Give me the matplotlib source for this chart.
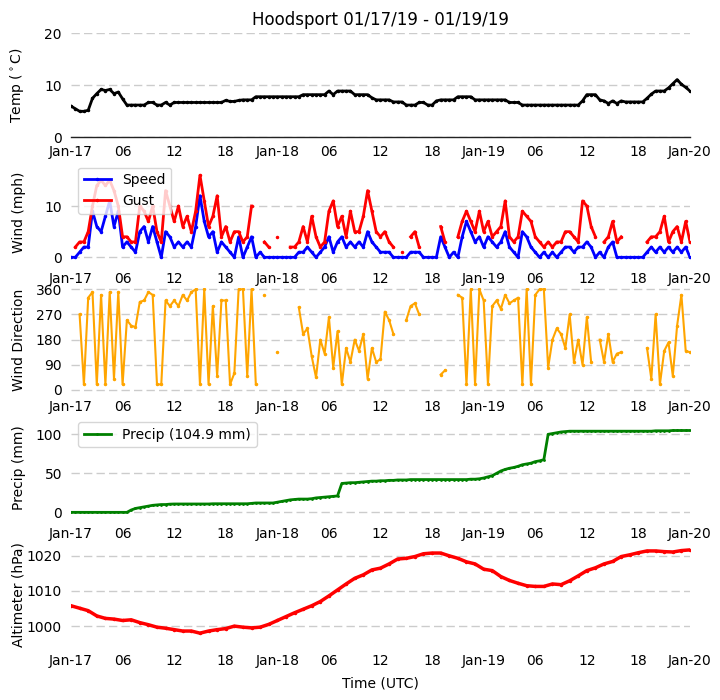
import numpy as np
import pandas as pd
import matplotlib
matplotlib.use('Agg')
import matplotlib.pyplot as plt
import matplotlib.dates as mdates
from matplotlib.ticker import FuncFormatter

nan = np.nan
title = 'Hoodsport 01/17/19 - 01/19/19'
start = pd.Timestamp('2019-01-17 00:00')

# half-hourly readings, 00:00 Jan 17 -> 00:00 Jan 20
temp_c = [6.0, 5.5, 5.0, 5.0, 5.2, 7.5, 8.4, 9.2, 9.0, 9.2, 8.4, 8.7, 7.4, 6.2, 6.2, 6.2,
          6.2, 6.2, 6.7, 6.7, 6.2, 6.2, 6.7, 6.2, 6.7, 6.7, 6.7, 6.7, 6.7, 6.7, 6.7, 6.7,
          6.7, 6.7, 6.7, 6.7, 7.1, 6.9, 6.9, 7.1, 7.2, 7.2, 7.2, 7.8, 7.8, 7.8, 7.8, 7.8,
          7.8, 7.8, 7.8, 7.8, 7.8, 7.8, 8.2, 8.2, 8.2, 8.2, 8.2, 8.2, 8.9, 8.2, 8.9, 8.9,
          8.9, 8.9, 8.2, 8.2, 8.2, 8.2, 7.6, 7.2, 7.2, 7.2, 7.2, 6.8, 6.8, 6.8, 6.2, 6.2,
          6.2, 6.7, 6.7, 6.2, 6.2, 7.0, 7.2, 7.2, 7.2, 7.2, 7.8, 7.8, 7.8, 7.8, 7.2, 7.2,
          7.2, 7.2, 7.2, 7.2, 7.2, 7.2, 6.7, 6.7, 6.7, 6.2, 6.2, 6.2, 6.2, 6.2, 6.2, 6.2,
          6.2, 6.2, 6.2, 6.2, 6.2, 6.2, 6.2, 7.0, 8.2, 8.2, 8.2, 7.2, 7.0, 6.5, 7.0, 6.5,
          7.0, 6.8, 6.8, 6.8, 6.8, 6.8, 7.5, 8.3, 8.9, 8.9, 8.9, 9.5, 10.3, 11.1, 10.2, 9.6,
          8.9]

wind_speed = [0, 0, 1, 2, 2, 9, 6, 5, 8, 11, 6, 9, 2, 3, 2, 1, 5, 6, 3, 6, 3, 0, 5, 4,
              2, 3, 2, 3, 2, 6, 12, 7, 4, 5, 1, 3, 2, 1, 0, 4, 0, 2, 4, 0, 1, 0, 0, 0,
              0, 0, 0, 0, 0, 1, 1, 2, 1, 0, 1, 2, 4, 1, 3, 4, 2, 3, 2, 3, 2, 5, 3, 2,
              1, 1, 1, 0, 0, 0, 0, 1, 1, 1, 0, 0, 0, 0, 4, 2, 0, 1, 0, 4, 7, 5, 3, 4,
              2, 4, 3, 2, 3, 5, 2, 1, 0, 5, 4, 2, 1, 0, 1, 0, 1, 0, 1, 2, 2, 1, 2, 2,
              3, 2, 0, 1, 0, 2, 3, 0, 0, 0, 0, 0, 0, 0, 1, 2, 1, 2, 1, 2, 1, 2, 1, 2,
              0]

wind_gust = [nan, 2, 3, 3, 5, 10, 14, 15, 14, 15, 13, 10, 4, 4, 3, 3, 10, 9, 7, 10, 5, 3, 13, 10,
             7, 10, 6, 8, 5, 9, 16, 11, 6, 8, 12, 4, 6, 3, 5, 5, 3, 4, 10, nan, nan, 3, 2, nan,
             4, nan, nan, 2, 2, 3, 6, 3, 8, 4, 2, 3, 9, 11, 6, 8, 4, 9, 5, 5, 8, 13, 9, 5,
             4, 5, 3, 2, nan, 1, nan, 4, 5, 2, nan, nan, nan, nan, 6, 3, nan, nan, 4, 7, 9, 7, 5, 9,
             5, 7, 4, 5, 6, 11, 4, 3, 4, 9, 8, 7, 4, 3, 2, 3, 2, 3, 3, 5, 5, 4, 3, 11,
             10, 6, 4, nan, 3, 4, 7, 3, 4, nan, nan, nan, nan, nan, 3, 4, 4, 5, 8, 3, 5, 6, 3, 7,
             3]

wind_dir = [nan, nan, 270, 20, 330, 350, 20, 340, 20, 350, 40, 350, 20, 250, 230, 225,
            315, 320, 350, 340, 20, 20, 320, 300, 320, 300, 340, 320, 350, 360, 20, 360,
            20, 300, 50, 320, 320, 20, 60, 360, 360, 50, 360, 20, nan, 340, nan, nan,
            135, nan, nan, nan, nan, 295, 200, 220, 120, 45, 180, 130, 260, 80, 210, 20,
            150, 100, 180, 140, 200, 40, 150, 100, 110, 280, 250, 200, nan, nan, 250, 300,
            310, 270, nan, nan, nan, nan, 55, 70, nan, nan, 340, 330, 20, 360, 20, 360,
            320, 20, 300, 320, 290, 340, 310, 320, 330, 20, 360, 20, 340, 360, 360, 80,
            180, 220, 200, 150, 270, 100, 180, 90, 260, 100, nan, 180, 100, 200, 100, 130,
            135, nan, nan, nan, nan, nan, 150, 40, 270, 20, 140, 170, 50, 230, 340, 140,
            135]

precip_mm = [0, 0, 0, 0, 0, 0, 0, 0, 0, 0, 0, 0, 0, 0, 3, 5, 6, 7, 8, 9, 9.5, 10, 10, 10.5,
             10.7, 10.7, 10.7, 10.7, 10.7, 10.7, 10.7, 10.7, 10.7, 11, 11, 11, 11, 11, 11, 11,
             11, 11, 11.5, 12, 12, 12, 12, 12, 13, 14, 15, 16, 16.5, 17, 17, 17, 17.5, 18.5,
             19, 19.5, 20, 20.5, 21, 37, 37.5, 38, 38, 38.5, 39, 39.5, 40, 40, 40.5, 40.5,
             41, 41, 41.5, 41.5, 41.5, 42, 42, 42, 42, 42, 42, 42, 42, 42, 42, 42, 42, 42,
             42, 42.5, 42.5, 43, 44, 45.5, 47, 50, 53, 55, 56.5, 57.5, 59, 61, 62, 63, 65, 66,
             67.5, 100, 101, 102, 103, 103.5, 104, 104, 104, 104, 104, 104, 104, 104, 104, 104,
             104, 104, 104, 104, 104, 104, 104, 104, 104, 104, 104.5, 104.5, 104.5, 104.5,
             104.9, 104.9, 104.9, 104.9, 104.9]

# hourly altimeter setting
altimeter_hpa = [1005.8, 1005.1, 1004.4, 1002.9, 1002.2, 1002.0, 1001.6, 1001.8, 1001.0, 1000.4,
                 999.7, 999.4, 999.0, 998.6, 998.6, 998.0, 998.6, 999.0, 999.3, 1000.0,
                 999.7, 999.5, 999.7, 1000.5, 1001.6, 1002.7, 1003.8, 1004.8, 1005.8, 1007.0,
                 1008.6, 1010.3, 1012.0, 1013.6, 1014.6, 1016.0, 1016.5, 1017.7, 1019.1, 1019.3,
                 1019.8, 1020.6, 1020.8, 1020.8, 1020.0, 1019.3, 1018.3, 1017.7, 1016.2, 1015.8,
                 1014.1, 1013.0, 1012.2, 1011.5, 1011.3, 1011.3, 1012.0, 1011.8, 1012.9, 1014.3,
                 1015.8, 1016.6, 1017.7, 1018.4, 1019.8, 1020.3, 1020.9, 1021.4, 1021.4, 1021.2,
                 1021.1, 1021.5, 1021.7]

t_half = pd.date_range(start, periods=len(temp_c), freq='30min')
t_hour = pd.date_range(start, periods=len(altimeter_hpa), freq='h')


def tick_fmt(x, pos):
    d = mdates.num2date(x)
    if d.hour == 0:
        return d.strftime('%b-%d')
    return d.strftime('%H')


def style_axis(ax):
    for s in ax.spines.values():
        s.set_visible(False)
    ax.grid(axis='y', color='#cccccc', linestyle=(0, (6, 3)), lw=1)
    ax.grid(axis='x', visible=False)
    ax.set_axisbelow(True)
    ax.tick_params(axis='x', length=0, pad=5.5, labelsize=10)
    ax.tick_params(axis='y', length=0, pad=6.5, labelsize=10)
    ax.xaxis.set_major_locator(mdates.HourLocator(byhour=[0, 6, 12, 18]))
    ax.xaxis.set_major_formatter(FuncFormatter(tick_fmt))
    ax.set_xlim(start, start + pd.Timedelta(hours=72))


fig = plt.figure(figsize=(7.2, 7), dpi=100)
W, H = 720.0, 700.0
bottoms = [137.3, 264.6, 391.9, 519.2, 646.5]
axes = [fig.add_axes([71 / W, 1 - b / H, 619 / W, 104 / H]) for b in bottoms]
ax1, ax2, ax3, ax4, ax5 = axes
for ax in axes:
    style_axis(ax)

ax1.plot(t_half, temp_c, color='black', lw=2, marker='.', ms=3)
ax1.axhline(0, color='#222222', lw=1, clip_on=False)
ax1.set_ylim(0, 20)
ax1.set_yticks([0, 10, 20])
ax1.set_ylabel(r'Temp ($^\circ$C)', fontsize=10)
ax1.set_title(title, fontsize=12)

ax2.plot(t_half, wind_speed, color='blue', lw=2, marker='.', ms=3, label='Speed')
ax2.plot(t_half, wind_gust, color='red', lw=2, marker='.', ms=3, label='Gust')
ax2.set_ylim(-1.42, 18.85)
ax2.set_yticks([0, 10])
ax2.set_ylabel('Wind (mph)', fontsize=10)
ax2.legend(loc='upper left', fontsize=10)

ax3.plot(t_half, wind_dir, color='orange', lw=1.5, marker='.', ms=3)
ax3.set_ylim(-6.8, 365)
ax3.set_yticks([0, 90, 180, 270, 360])
ax3.set_ylabel('Wind Direction', fontsize=10)

total = precip_mm[-1] - precip_mm[0]
ax4.plot(t_half, precip_mm, color='green', lw=2, marker='.', ms=2,
         label=f'Precip ({total:.1f} mm)')
ax4.set_ylim(-8.8, 124.5)
ax4.set_yticks([0, 50, 100])
ax4.set_ylabel('Precip (mm)', fontsize=10)
ax4.legend(loc='upper left', fontsize=10)

ax5.plot(t_hour, altimeter_hpa, color='red', lw=2.5, marker='.', ms=3)
ax5.set_ylim(994.2, 1023.8)
ax5.set_yticks([1000, 1010, 1020])
ax5.set_ylabel('Altimeter (hPa)', fontsize=10)
ax5.set_xlabel('Time (UTC)', fontsize=10, labelpad=6)

# line the y labels up the same distance left of the axes
for ax in axes:
    ax.yaxis.set_label_coords(-0.0735, 0.5)

fig.savefig('out.png', dpi=100)
